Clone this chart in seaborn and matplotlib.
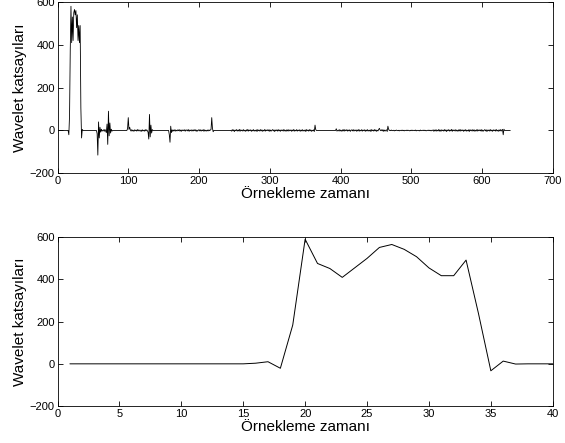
import numpy as np
import pandas as pd
import matplotlib
matplotlib.use("Agg")
import matplotlib.pyplot as plt
import seaborn as sns

# ---------------- data ----------------
# bottom panel: first 40 coefficients
bottom_x = list(range(1, 41))
bottom_y = [0, 0, 0, 0, 0, 0, 0, 0, 0, 0, 0, 0, 0, 0, 0, 3,
            10, -21, 184, 591, 476, 452, 410, 455, 500, 552, 566, 543,
            508, 455, 418, 418, 492, 239, -33, 13, -1, 0, 0, 0]

# top panel: full signal (640 samples)
top_len = 640
top_head = [0, 0, 0, 0, 0, 0, 0, 0, 0, 0, 0, 0, 0, 0, 0, -20,
            70, 375, 580, 410, 530, 420, 550, 565, 540, 560, 480, 540,
            420, 490, 410, 490, 105, -35, 5, 0, 0, 0, 0, 0]

spike_idx = [56, 57, 58, 59, 60, 61, 62, 63, 65, 66, 67, 68,
             69, 70, 71, 72, 73, 74, 75, 76, 77,
             99, 100, 101, 102,
             128, 129, 130, 131, 132, 133, 134,
             158, 159, 160, 161,
             217, 218, 219, 220,
             363, 364, 365, 394, 395,
             455, 466, 467, 468,
             629, 630, 631]
spike_val = [-15, -115, 40, -35, 15, -8, 6, -3, 3, -4, 5, -3,
             -10, 30, -65, 90, -25, 35, -12, 6, -3,
             8, 60, 5, 15,
             -8, -40, 75, -30, 25, -12, 4,
             -20, -55, 20, -10,
             5, 60, 10, -6,
             -5, 25, 4, 8, -3,
             10, -5, 20, 6,
             5, -20, 6]

noise_a_start = 103
noise_a = [2, -3, 4, -2, 1, -4, 3, -1, 2, -3, 4, -2, 3, -1, -3, 2, -4, 3, -2, 1, -3, 4, -2, 3, -1]
noise_b_start = 162
noise_b = [3, -4, 2, -2, 4, -3, 1, -2, 3, -1, 4, -3, 2, -4, 3, -1, 2, -2, 4, -3, 1, 3, -2, 4, -4, 2, -1,
           3, -3, 2, -2, 4, -1, 3, -4, 2, -3, 1, 4, -2, 3, -3, 2, -1, 4, -4, 3, -2, 1, -3, 2, -2, 3, -1, 2]
noise_c_start = 246
noise_c = [-3, 4, -2, 3, -5, 2, -1, 4, -3, 2, -2, 5, -4, 3, -1, 2, -3, 4, -2, 1, -4, 3, -2, 5, -3, 2, -1,
           3, -4, 2, -2, 4, -3, 1, -2, 3, -5, 4, -1, 2, -3, 4, -2, 3, -4, 1, -2, 5, -3, 2, -1, 3, -2, 4,
           -4, 2, -3, 1, 4, -2, 3, -5, 2, -1, 3, -3, 4, -2, 2, -4, 3, -1, 2, -3, 5, -2, 1, -4, 3, -2, 4,
           -3, 2, -1, 3, -4, 2, -2, 5, -3, 1, -2, 4, -3, 2, -1, 3, -4, 2, -2, 4, -3, 1, -2, 3, -5, 4, -1,
           2, -3, 4, -2, 3, -4, 1, -2, 3]
noise_d_start = 397
noise_d = [2, -3, 4, -2, 1, -4, 3, -2, 5, -3, 2, -1, 4, -3, 2, -2, 3, -4, 1, 3, -2, 4, -3, 2, -1, 3, -4,
           2, -2, 5, -3, 1, -2, 4, -3, 2, -1, 3, -4, 2, -2, 4, -3, 1, -2, 3, -5, 4, -1, 2, -3, 4, -2, 3,
           -4, 1, -2, 5, -3, 2, -1, 3, -2, 4, -4, 2, -3, 1, 3]
noise_e_start = 470
noise_e = [1, -1, 2, -1, 0, 1, -2, 1, -1, 2, 0, -1, 1, -2, 1, 0, -1, 2, -1, 1, -2, 1, 0, -1, 2, -1, 1,
           0, -2, 1, -1, 2, -1, 0, 1, -1, 2, -2, 1, 0, -1, 1, -2, 2, -1, 0, 1, -1, 2, -1, 1, -2, 0, 1,
           -1, 2, -1, 1, -2, 1]
noise_f_start = 531
noise_f = [3, -4, 2, -2, 4, -3, 1, -2, 5, -3, 2, -4, 3, -1, 2, -3, 4, -2, 3, -5, 2, -1, 4, -3, 2, -2,
           5, -4, 3, -1, 2, -3, 4, -2, 1, -4, 3, -2, 5, -3, 2, -1, 3, -4, 2, -2, 4, -3, 1, -2, 3, -5, 4,
           -1, 2, -3, 4, -2, 3, -4, 1, -2, 5, -3, 2, -1, 3, -2, 4, -4, 2, -3, 1, 4, -2, 3, -5, 2, -1, 3,
           -3, 4, -2, 2, -4, 3, -1, 2, -3, 5, -2, 1, -4, 3, -2, 4, -3, 2]

x_label = "Örnekleme zamanı"
y_label = "Wavelet katsayıları"
top_xticks = [0, 100, 200, 300, 400, 500, 600, 700]
bottom_xticks = [0, 5, 10, 15, 20, 25, 30, 35, 40]
yticks = [-200, 0, 200, 400, 600]

# ---------------- build series ----------------
top_y = np.zeros(top_len)
top_y[:len(top_head)] = top_head
for s, seg in [(noise_a_start, noise_a), (noise_b_start, noise_b), (noise_c_start, noise_c),
               (noise_d_start, noise_d), (noise_e_start, noise_e), (noise_f_start, noise_f)]:
    n = min(len(seg), top_len - (s - 1))
    top_y[s - 1:s - 1 + n] = seg[:n]
for i, v in zip(spike_idx, spike_val):
    top_y[i - 1] = v
top_df = pd.DataFrame({"x": np.arange(1, top_len + 1), "y": top_y})
bot_df = pd.DataFrame({"x": bottom_x, "y": bottom_y})

# ---------------- style ----------------
sns.set_style("ticks")
plt.rcParams["font.family"] = ["Liberation Sans", "DejaVu Sans"]
plt.rcParams.update({
    "xtick.direction": "in", "ytick.direction": "in",
    "xtick.top": True, "ytick.right": True,
    "xtick.major.size": 3.5, "ytick.major.size": 3.5,
    "xtick.major.width": 0.6, "ytick.major.width": 0.6,
    "axes.linewidth": 0.6, "axes.edgecolor": "black",
    "xtick.color": "black", "ytick.color": "black",
    "text.color": "black", "axes.labelcolor": "black",
})

fig = plt.figure(figsize=(5.65, 4.43), dpi=100)
ax1 = fig.add_axes([0.1018, 0.6088, 0.8765, 0.3867])
ax2 = fig.add_axes([0.1018, 0.0835, 0.8765, 0.3808])

sns.lineplot(data=top_df, x="x", y="y", ax=ax1, color="black", linewidth=0.6)
sns.lineplot(data=bot_df, x="x", y="y", ax=ax2, color="black", linewidth=0.7)

for ax, xt in [(ax1, top_xticks), (ax2, bottom_xticks)]:
    ax.set_xlim(xt[0], xt[-1])
    ax.set_ylim(-200, 600)
    ax.set_xticks(xt)
    ax.set_yticks(yticks)
    ax.tick_params(labelsize=8, pad=2, labelcolor="black")
    ax.set_xlabel(x_label, fontsize=11, labelpad=1)
    ax.set_ylabel(y_label, fontsize=11, labelpad=2)
    for sp in ax.spines.values():
        sp.set_visible(True)

fig.savefig("out.png", dpi=100)
